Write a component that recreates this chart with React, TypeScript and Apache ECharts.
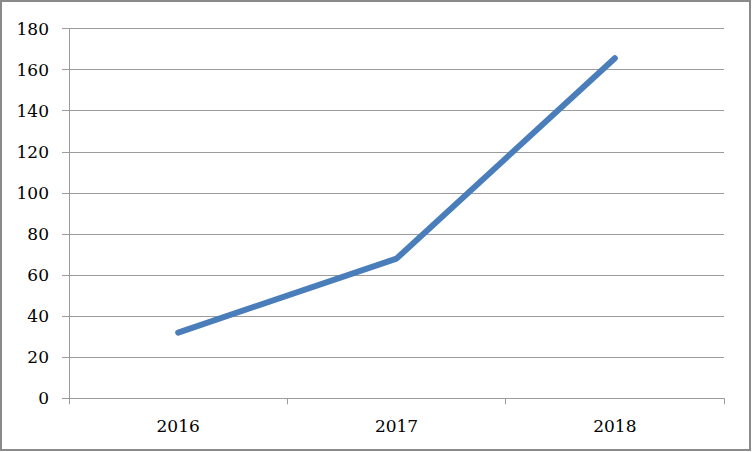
import React, { useEffect, useRef } from "react";
import * as echarts from "echarts";

const categories = ["2016", "2017", "2018"];
const values = [32, 68, 165.5];
const yTicks = [0, 20, 40, 60, 80, 100, 120, 140, 160, 180];

export default function App() {
  const ref = useRef<HTMLDivElement>(null);
  useEffect(() => {
    if (!ref.current) return;
    const chart = echarts.init(ref.current, null, { renderer: "svg" });
    const gray = "#9c9c9c";
    const font = "'DejaVu Serif', serif";
    chart.setOption({
      animation: false,
      backgroundColor: "#ffffff",
      grid: { left: 69, right: 28, top: 28.5, bottom: 53.7 },
      graphic: [
        {
          type: "rect",
          shape: { x: 1, y: 1, width: 749, height: 449 },
          style: { fill: "none", stroke: "#8a8a8a", lineWidth: 2 },
          silent: true,
        },
      ],
      xAxis: {
        type: "category",
        data: categories,
        boundaryGap: true,
        axisLine: { show: true, lineStyle: { color: gray, width: 1 } },
        axisTick: { show: true, length: 6, alignWithLabel: false, lineStyle: { color: gray } },
        axisLabel: { color: "#000", fontFamily: font, fontSize: 17, margin: 19 },
        splitLine: { show: false },
      },
      yAxis: {
        type: "value",
        min: yTicks[0],
        max: yTicks[yTicks.length - 1],
        interval: 20,
        axisLine: { show: true, lineStyle: { color: gray, width: 1 } },
        axisTick: { show: true, length: 7, lineStyle: { color: gray } },
        axisLabel: { color: "#000", fontFamily: font, fontSize: 17, margin: 20 },
        splitLine: { show: true, lineStyle: { color: gray, width: 1 } },
      },
      series: [
        {
          type: "line",
          data: values,
          showSymbol: false,
          symbol: "none",
          lineStyle: { color: "#4a7ebb", width: 6, cap: "round", join: "round" },
        },
      ],
    });
    return () => chart.dispose();
  }, []);
  return (
    <div
      ref={ref}
      style={{ position: "absolute", left: 0, top: 0, width: 752, height: 452 }}
    />
  );
}
